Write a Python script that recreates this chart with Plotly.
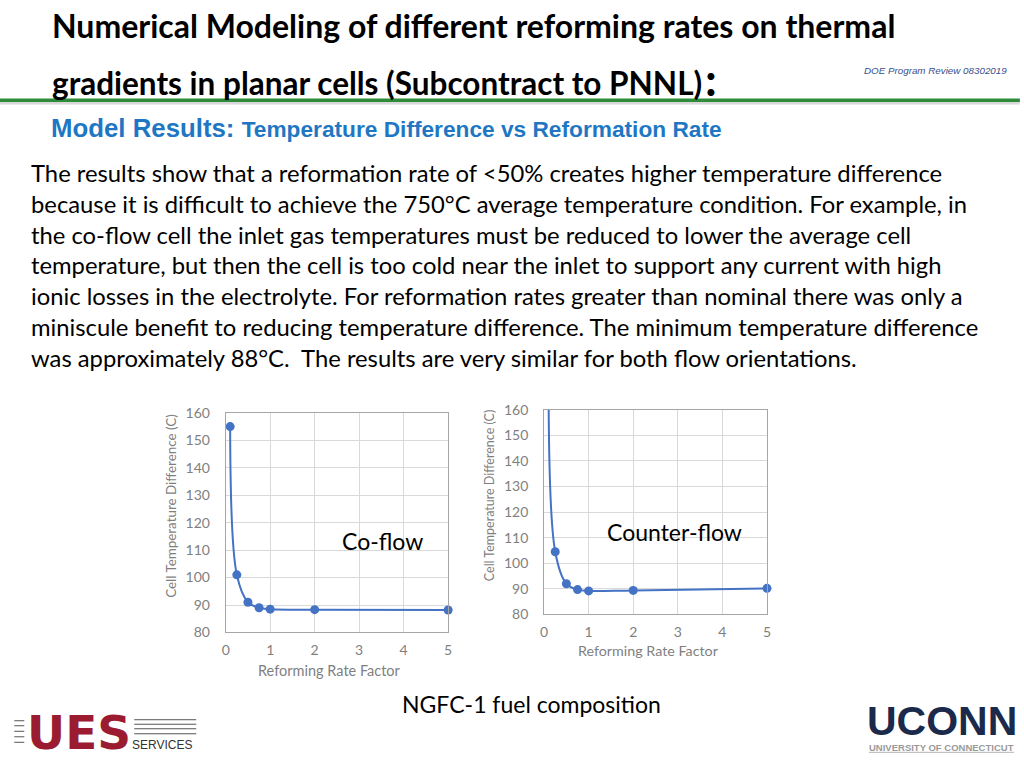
import plotly.graph_objects as go

# ---- data ----
rate_factor = [0.1, 0.25, 0.5, 0.75, 1, 2, 5]
coflow_dt = [155, 101, 91, 89, 88.5, 88.3, 88.2]
counterflow_dt = [178, 104.5, 92, 89.7, 89.2, 89.4, 90.2]
x_ticks = [0, 1, 2, 3, 4, 5]
y_ticks = [80, 90, 100, 110, 120, 130, 140, 150, 160]
x_title = "Reforming Rate Factor"
y_title = "Cell Temperature Difference (C)"

title_lines = ["Numerical Modeling of different reforming rates on thermal",
               "gradients in planar cells (Subcontract to PNNL)"]
body_lines = [
    "The results show that a reformation rate of &lt;50% creates higher temperature difference",
    "because it is difficult to achieve the 750°C average temperature condition. For example, in",
    "the co-flow cell the inlet gas temperatures must be reduced to lower the average cell",
    "temperature, but then the cell is too cold near the inlet to support any current with high",
    "ionic losses in the electrolyte. For reformation rates greater than nominal there was only a",
    "miniscule benefit to reducing temperature difference. The minimum temperature difference",
    "was approximately 88°C.  The results are very similar for both flow orientations.",
]

W, H = 1024, 768
# screen-pixel -> paper mapping (calibrated to the page as photographed)
def px(x): return ((x - 4.7) / 0.9926) / W
def py(y): return 1 - ((y - 11.35) / 0.975) / H

BLUE = "#4472C4"
GRID = "#d9d9d9"
FRAME = "#a6a6a6"
TICK = "#7f7f7f"
FONT = "Lato"

fig = go.Figure()

# Co-flow
fig.add_trace(go.Scatter(x=rate_factor, y=coflow_dt, mode="lines+markers",
                         line=dict(color=BLUE, width=2, shape="spline", smoothing=1.0),
                         marker=dict(color=BLUE, size=9), cliponaxis=False,
                         xaxis="x", yaxis="y", showlegend=False))
# Counter-flow: line (clipped) + markers
fig.add_trace(go.Scatter(x=rate_factor, y=counterflow_dt, mode="lines",
                         line=dict(color=BLUE, width=2, shape="spline", smoothing=1.0),
                         cliponaxis=True, xaxis="x2", yaxis="y2", showlegend=False))
fig.add_trace(go.Scatter(x=rate_factor[1:], y=counterflow_dt[1:], mode="markers",
                         marker=dict(color=BLUE, size=9), cliponaxis=False,
                         xaxis="x2", yaxis="y2", showlegend=False))

axis_common = dict(showgrid=True, gridcolor=GRID, gridwidth=1, showline=True,
                   linecolor=FRAME, linewidth=1, mirror=True, zeroline=False,
                   ticks="", tickfont=dict(family=FONT, size=14, color=TICK))
xcommon = dict(axis_common, range=[0, 5], tickvals=x_ticks, ticklabelstandoff=5)
ycommon = dict(axis_common, range=[80, 160], tickvals=y_ticks, ticklabelstandoff=12)

fig.update_layout(
    width=W, height=H, margin=dict(l=0, r=0, t=0, b=0),
    paper_bgcolor="white", plot_bgcolor="white",
    xaxis=dict(xcommon, domain=[px(226.5), px(449)], anchor="y"),
    yaxis=dict(ycommon, domain=[py(633), py(414)], anchor="x"),
    xaxis2=dict(xcommon, domain=[px(545), px(768)], anchor="y2"),
    yaxis2=dict(ycommon, domain=[py(615), py(411)], anchor="x2"),
)

ann = []
def text(x, y, s, size, color="black", family=FONT, xanchor="left", bold=False, italic=False, angle=0):
    if bold: s = "<b>" + s + "</b>"
    if italic: s = "<i>" + s + "</i>"
    ann.append(dict(x=px(x), y=py(y), xref="paper", yref="paper", text=s, showarrow=False,
                    xanchor=xanchor, yanchor="middle", align="left", textangle=angle,
                    font=dict(family=family, size=size, color=color)))

# axis titles (offset from the plot centres as in the original)
text(330.5, 671, x_title, 14.5, color=TICK, xanchor="center")
text(649, 651, x_title, 14.3, color=TICK, xanchor="center")
text(171, 506.5, y_title, 13.4, color=TICK, xanchor="center", angle=-90)
text(490, 497, y_title, 12.5, color=TICK, xanchor="center", angle=-90)

# titles
text(50.3, 28, title_lines[0], 32, bold=True)
text(50.3, 85, title_lines[1], 31.5, bold=True)
text(704, 81, ":", 46, bold=True)
text(863, 73, "DOE Program Review 08302019", 9.8, color="#3b4f8a", family="Liberation Sans", italic=True)
text(49.3, 130, "Model Results: <span style='font-size:22.7px'>Temperature Difference vs Reformation Rate</span>",
     25.8, color="#1f77c4", family="Liberation Sans", bold=True)

# body
for i, line in enumerate(body_lines):
    text(29.5, 175 + i * 30.67, line, 23.8)

text(341.2, 542, "Co-flow", 23)
text(606, 533, "Counter-flow", 23)
text(400.7, 704, "NGFC-1 fuel composition", 23)

# UCONN logo
text(943, 721.5, "<b>UCONN</b>", 41, color="#1b2a4a", family="Liberation Sans", xanchor="center")
text(942.5, 748, "<b>UNIVERSITY OF CONNECTICUT</b>", 9.5, color="#9a9a9a", family="Liberation Sans", xanchor="center")

# UES logo
text(25.5, 733, "<b>UES</b>", 47, color="#9b1b30", family="DejaVu Sans")
text(131, 745, "SERVICES", 12, color="#333333", family="Liberation Sans")
fig.update_layout(annotations=ann)

shapes = []
# green header line + shadow
shapes.append(dict(type="rect", xref="paper", yref="paper", x0=px(0), x1=px(1021), y0=py(106.5), y1=py(104),
                   fillcolor="#d8d8d8", line=dict(width=0)))
shapes.append(dict(type="rect", xref="paper", yref="paper", x0=px(0), x1=px(1021), y0=py(104), y1=py(100.5),
                   fillcolor="#2e8b3a", line=dict(width=0)))
# UCONN underline
shapes.append(dict(type="line", xref="paper", yref="paper", x0=px(870), x1=px(1015), y0=py(752.5), y1=py(752.5),
                   line=dict(color="#b5b5b5", width=1)))
# UES lines
for yy in [721, 726, 731.5, 737, 742.5]:
    shapes.append(dict(type="line", xref="paper", yref="paper", x0=px(15), x1=px(25), y0=py(yy), y1=py(yy),
                       line=dict(color="#555555", width=1)))
for yy in [720, 724.5, 729, 734]:
    shapes.append(dict(type="line", xref="paper", yref="paper", x0=px(135), x1=px(197), y0=py(yy), y1=py(yy),
                       line=dict(color="#555555", width=1)))
fig.update_layout(shapes=shapes)

fig.write_html("out.html", config={"displayModeBar": False},
               post_script="document.body.style.margin='0';")
